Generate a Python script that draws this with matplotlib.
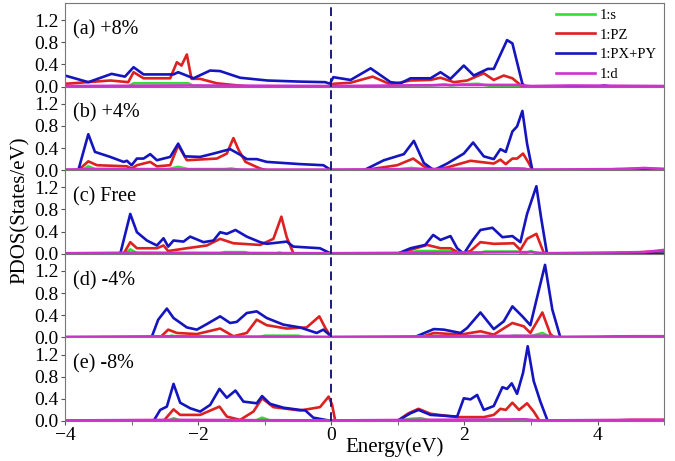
import matplotlib.pyplot as plt
from matplotlib.ticker import MultipleLocator, FormatStrFormatter

plt.rcParams['font.family'] = ['Liberation Serif', 'DejaVu Serif']

# panel labels
labels = ["(a) +8%", "(b) +4%", "(c) Free", "(d) -4%", "(e) -8%"]

# (energy, PDOS) points, one list per orbital and panel
# ---- (a) +8% ----
s_a = [(-4, 0), (-3.05, 0), (-2.97, 0.06), (-2.15, 0.06), (-2.05, 0), (1.1, 0), (1.2, 0.02),
       (1.5, 0.02), (1.7, 0.04), (1.8, 0.02), (1.95, 0.04), (2.2, 0.05), (2.3, 0.03), (2.45, 0), (5, 0)]
pz_a = [(-4.0, 0.05), (-3.32, 0.11), (-3.05, 0.08), (-2.97, 0.26), (-2.82, 0.15), (-2.42, 0.15),
        (-2.32, 0.44), (-2.25, 0.38), (-2.17, 0.58), (-2.1, 0.14), (-1.97, 0.14), (-1.72, 0.06),
        (-1.4, 0.02), (-1.2, 0), (0.0, 0), (0.03, 0.05), (0.29, 0.07), (0.62, 0.18), (0.89, 0.04),
        (1.19, 0.11), (1.49, 0.12), (1.64, 0.16), (1.84, 0.08), (2.04, 0.11), (2.29, 0.24),
        (2.44, 0.12), (2.59, 0.2), (2.72, 0.15), (2.84, 0.03), (2.9, 0), (5.0, 0)]
pxy_a = [(-4.0, 0.2), (-3.65, 0.08), (-3.3, 0.23), (-3.1, 0.18), (-2.97, 0.35), (-2.82, 0.22),
         (-2.37, 0.22), (-2.3, 0.26), (-2.07, 0.15), (-1.82, 0.29), (-1.67, 0.28), (-1.37, 0.16),
         (-0.96, 0.11), (-0.47, 0.09), (-0.09, 0.08), (-0.02, 0.05), (0.03, 0.17), (0.29, 0.12),
         (0.59, 0.33), (0.89, 0.08), (1.04, 0.06), (1.19, 0.15), (1.49, 0.15), (1.64, 0.26),
         (1.79, 0.14), (1.99, 0.38), (2.14, 0.2), (2.35, 0.32), (2.44, 0.32), (2.64, 0.84),
         (2.72, 0.78), (2.87, 0.05), (2.92, 0), (4.0, 0), (4.1, 0.02), (4.2, 0), (5.0, 0)]
d_a = [(-4, 0.01), (-2, 0.02), (0, 0.01), (2, 0.03), (2.8, 0.03), (3, 0.01), (3.6, 0.02), (5, 0.01)]

# ---- (b) +4% ----
s_b = [(-4, 0), (-3.75, 0), (-3.65, 0.07), (-3.55, 0.02), (-2.45, 0.02), (-2.3, 0.06), (-2.15, 0.02),
       (-1.6, 0.02), (-1.5, 0.03), (-1.35, 0), (0.9, 0), (1.2, 0.04), (1.35, 0.02), (1.6, 0),
       (2.1, 0.03), (2.9, 0.03), (3.0, 0), (5, 0)]
pz_b = [(-4, 0), (-3.8, 0), (-3.65, 0.16), (-3.52, 0.09), (-3.07, 0.07), (-3.0, 0.03), (-2.92, 0.09),
        (-2.72, 0.15), (-2.62, 0.07), (-2.42, 0.09), (-2.3, 0.45), (-2.17, 0.18), (-1.72, 0.21),
        (-1.57, 0.3), (-1.47, 0.58), (-1.39, 0.36), (-1.29, 0.15), (-1.07, 0.03), (-0.97, 0),
        (0.49, 0), (0.99, 0.09), (1.23, 0.21), (1.39, 0.07), (1.54, 0), (1.74, 0.05), (2.09, 0.17),
        (2.44, 0.12), (2.54, 0.19), (2.62, 0.11), (2.72, 0.21), (2.79, 0.21), (2.88, 0.3),
        (2.97, 0.12), (3.02, 0), (3.9, 0), (4.3, 0.02), (4.7, 0.03), (5, 0.02)]
pxy_b = [(-4.0, 0), (-3.8, 0), (-3.65, 0.65), (-3.55, 0.33), (-3.32, 0.24), (-3.12, 0.15),
         (-3.07, 0.17), (-3.0, 0.09), (-2.92, 0.21), (-2.82, 0.21), (-2.72, 0.29), (-2.62, 0.18),
         (-2.42, 0.24), (-2.3, 0.48), (-2.2, 0.25), (-1.97, 0.24), (-1.77, 0.3), (-1.52, 0.38),
         (-1.37, 0.28), (-1.27, 0.2), (-1.12, 0.2), (-0.97, 0.15), (-0.47, 0.11), (-0.12, 0.09),
         (0.0, 0), (0.49, 0), (0.79, 0.18), (1.09, 0.29), (1.24, 0.53), (1.39, 0.13), (1.54, 0),
         (1.74, 0.12), (1.99, 0.3), (2.13, 0.5), (2.29, 0.25), (2.44, 0.2), (2.54, 0.38),
         (2.62, 0.33), (2.72, 0.7), (2.79, 0.79), (2.87, 1.07), (2.94, 0.48), (3.02, 0), (5.0, 0)]
d_b = [(-4, 0.01), (-3.6, 0.02), (-1, 0.01), (0, 0.01), (1.2, 0.02), (2.8, 0.03), (3, 0.01),
       (4.4, 0.02), (4.7, 0.04), (5, 0.02)]

# ---- (c) Free ----
s_c = [(-4, 0), (-3.1, 0), (-3.02, 0.08), (-2.9, 0), (-1.7, 0), (-1.6, 0.03), (-1.3, 0.03), (-1.2, 0),
       (-0.85, 0), (-0.78, 0.02), (-0.7, 0), (1.1, 0), (1.3, 0.05), (1.8, 0.05), (1.9, 0), (2.2, 0),
       (2.3, 0.04), (2.8, 0.04), (2.9, 0), (3.0, 0.05), (3.1, 0), (5, 0)]
pz_c = [(-4, 0), (-3.12, 0), (-3.02, 0.21), (-2.92, 0.1), (-2.62, 0.1), (-2.52, 0.15), (-2.45, 0.05),
        (-2.17, 0.1), (-1.87, 0.15), (-1.67, 0.27), (-1.47, 0.19), (-1.07, 0.16), (-0.87, 0.27),
        (-0.75, 0.67), (-0.67, 0.3), (-0.57, 0.01), (-0.4, 0), (0.99, 0), (1.44, 0.16), (1.64, 0.1),
        (1.79, 0.1), (1.94, 0), (2.09, 0.05), (2.24, 0.21), (2.44, 0.18), (2.74, 0.19), (2.84, 0.07),
        (2.94, 0.27), (3.08, 0.36), (3.19, 0.02), (3.3, 0), (4.0, 0), (4.5, 0.02), (5, 0.05)]
pxy_c = [(-4, 0), (-3.17, 0), (-3.02, 0.72), (-2.92, 0.39), (-2.77, 0.24), (-2.62, 0.15),
         (-2.52, 0.28), (-2.45, 0.13), (-2.37, 0.24), (-2.22, 0.22), (-2.12, 0.31), (-1.92, 0.21),
         (-1.77, 0.24), (-1.67, 0.39), (-1.57, 0.36), (-1.44, 0.43), (-1.27, 0.31), (-1.07, 0.21),
         (-0.97, 0.18), (-0.67, 0.22), (-0.57, 0.13), (-0.17, 0.1), (0, 0), (0.99, 0), (1.19, 0.1),
         (1.41, 0.16), (1.53, 0.34), (1.64, 0.25), (1.79, 0.32), (1.89, 0.1), (1.99, 0), (2.12, 0.24),
         (2.24, 0.43), (2.42, 0.47), (2.57, 0.3), (2.72, 0.32), (2.84, 0.21), (2.94, 0.72),
         (3.08, 1.22), (3.15, 0.66), (3.24, 0), (5, 0)]
d_c = [(-4, 0.01), (-3, 0.02), (0, 0.01), (1.5, 0.02), (3.0, 0.03), (3.2, 0.01), (4.0, 0.02),
       (4.7, 0.03), (5, 0.07)]

# ---- (d) -4% ----
s_d = [(-4, 0), (-2.5, 0), (-2.4, 0.03), (-2.2, 0), (-1.1, 0), (-1.0, 0.03), (-0.5, 0.03), (-0.4, 0),
       (1.4, 0), (1.55, 0.03), (1.7, 0), (2.6, 0), (2.75, 0.03), (3.0, 0.02), (3.17, 0.08), (3.3, 0),
       (5, 0)]
pz_d = [(-4, 0), (-2.57, 0), (-2.45, 0.14), (-2.32, 0.08), (-2.02, 0.06), (-1.67, 0.16), (-1.47, 0.02),
        (-1.27, 0.08), (-1.12, 0.32), (-0.97, 0.22), (-0.67, 0.16), (-0.37, 0.18), (-0.18, 0.38),
        (-0.09, 0.17), (0, 0), (1.34, 0), (1.54, 0.08), (1.94, 0.05), (2.24, 0.11), (2.44, 0.05),
        (2.72, 0.26), (2.89, 0.2), (2.99, 0.08), (3.17, 0.45), (3.29, 0.06), (3.35, 0), (4.0, 0),
        (4.5, 0.02), (5, 0.02)]
pxy_d = [(-4, 0), (-2.7, 0), (-2.6, 0.32), (-2.47, 0.52), (-2.37, 0.35), (-2.17, 0.18), (-2.02, 0.14),
         (-1.87, 0.24), (-1.67, 0.38), (-1.52, 0.26), (-1.42, 0.28), (-1.27, 0.44), (-1.12, 0.47),
         (-0.97, 0.35), (-0.72, 0.23), (-0.47, 0.18), (-0.22, 0.08), (-0.12, 0.14), (-0.04, 0.06),
         (0, 0), (1.24, 0), (1.54, 0.15), (1.69, 0.14), (1.94, 0.08), (2.04, 0.17), (2.24, 0.45),
         (2.44, 0.15), (2.59, 0.29), (2.72, 0.56), (2.87, 0.38), (2.99, 0.22), (3.09, 0.72),
         (3.21, 1.31), (3.32, 0.5), (3.44, 0), (5, 0)]
d_d = [(-4, 0.01), (-2.5, 0.02), (0, 0.01), (1.5, 0.02), (3.2, 0.03), (3.4, 0.01), (4.5, 0.02), (5, 0.02)]

# ---- (e) -8% ----
s_e = [(-4, 0), (-2.45, 0), (-2.37, 0.05), (-2.25, 0), (-1.15, 0), (-1.04, 0.06), (-0.9, 0), (0.99, 0),
       (1.2, 0.04), (1.35, 0.05), (1.5, 0), (2.8, 0), (2.9, 0.03), (3.0, 0), (5, 0)]
pz_e = [(-4, 0), (-2.52, 0), (-2.37, 0.21), (-2.27, 0.11), (-1.97, 0.11), (-1.68, 0.26), (-1.57, 0.08),
        (-1.37, 0.02), (-1.17, 0.17), (-1.04, 0.41), (-0.87, 0.25), (-0.47, 0.19), (-0.17, 0.25),
        (-0.04, 0.44), (0.01, 0.3), (0.06, 0), (0.99, 0), (1.16, 0.14), (1.31, 0.22), (1.49, 0.13),
        (1.89, 0.07), (2.29, 0.07), (2.44, 0.11), (2.54, 0.22), (2.62, 0.2), (2.72, 0.33),
        (2.82, 0.2), (2.94, 0.32), (3.04, 0.17), (3.13, 0), (4.0, 0), (4.5, 0.02), (5, 0.02)]
pxy_e = [(-4, 0), (-2.67, 0), (-2.57, 0.2), (-2.47, 0.26), (-2.37, 0.67), (-2.27, 0.33), (-2.12, 0.23),
         (-1.97, 0.17), (-1.82, 0.29), (-1.68, 0.58), (-1.57, 0.42), (-1.44, 0.55), (-1.32, 0.35),
         (-1.12, 0.32), (-1.04, 0.45), (-0.92, 0.31), (-0.72, 0.24), (-0.47, 0.2), (-0.39, 0.19),
         (-0.27, 0.06), (0, 0), (0.99, 0), (1.19, 0.14), (1.31, 0.2), (1.49, 0.11), (1.89, 0.08),
         (1.99, 0.41), (2.09, 0.39), (2.19, 0.47), (2.29, 0.2), (2.44, 0.27), (2.57, 0.61),
         (2.64, 0.58), (2.71, 0.68), (2.79, 0.49), (2.88, 0.87), (2.95, 1.35), (3.04, 0.72),
         (3.14, 0.35), (3.25, 0), (5, 0)]
d_e = [(-4, 0.01), (-2.4, 0.02), (0, 0.01), (1.3, 0.02), (2.9, 0.03), (3.1, 0.01), (4.5, 0.02), (5, 0.02)]

series_names = ["1:s", "1:PZ", "1:PX+PY", "1:d"]
colors = ["#33dd33", "#dd2020", "#1515c0", "#d030d0"]

panel_data = [
    [s_a, pz_a, pxy_a, d_a],
    [s_b, pz_b, pxy_b, d_b],
    [s_c, pz_c, pxy_c, d_c],
    [s_d, pz_d, pxy_d, d_d],
    [s_e, pz_e, pxy_e, d_e],
]

fig, axes = plt.subplots(5, 1, figsize=(6.75, 4.61), dpi=100, sharex=True)
fig.subplots_adjust(left=0.0963, right=0.984, top=0.9935, bottom=0.0868, hspace=0)

for ax, lab, data in zip(axes, labels, panel_data):
    for pts, name, c in zip(data, series_names, colors):
        xs = [p[0] for p in pts]
        ys = [p[1] for p in pts]
        ax.plot(xs, ys, color=c, lw=1.9, label=name, solid_joinstyle="round")
    ax.axvline(0, color="#1a1a7a", ls=(0, (4.5, 2.8)), lw=1.4)
    ax.set_xlim(-4, 5)
    ax.set_ylim(0, 1.51)
    ax.yaxis.set_major_locator(MultipleLocator(0.4))
    ax.yaxis.set_major_formatter(FormatStrFormatter("%.1f"))
    ax.xaxis.set_major_locator(MultipleLocator(2))
    ax.xaxis.set_minor_locator(MultipleLocator(1))
    ax.tick_params(which="both", direction="out", length=3, labelsize=14, color="#555555", pad=1.5)
    for sp in ax.spines.values():
        sp.set_color("#777777")
        sp.set_linewidth(0.8)
    ax.text(0.013, 0.68, lab, transform=ax.transAxes, fontsize=14.5, va="center", ha="left")

axes[0].legend(loc="upper right", frameon=False, fontsize=10.5, handlelength=2.7,
               labelspacing=0.45, borderaxespad=0.1, handletextpad=0.3,
               bbox_to_anchor=(1.0, 1.02))

fig.text(0.03, 0.545, "PDOS(States/eV)", rotation=90, ha="center", va="center", fontsize=15)
fig.text(0.511, 0.03, "Energy(eV)", ha="left", va="center", fontsize=15)

fig.savefig("out.png", dpi=100)
